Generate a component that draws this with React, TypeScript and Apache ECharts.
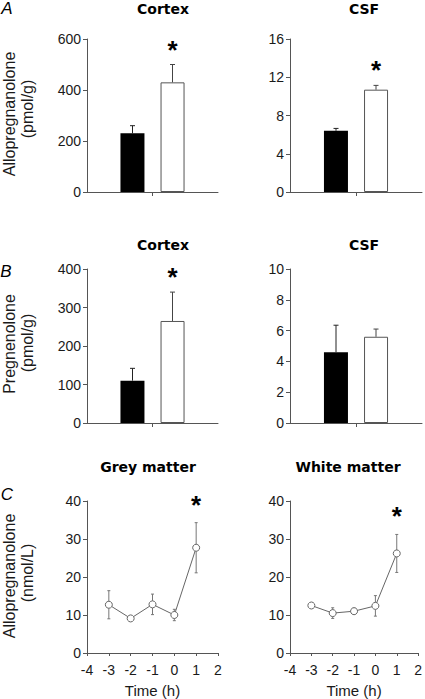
import React, { useEffect, useRef } from "react";
import * as echarts from "echarts";

// ---------- data ----------
const groupCategory = [""];
const alloCortex = [230, 430];
const alloCortexErr = [30, 70];
const alloCortexSig = [false, true];
const alloCsf = [6.4, 10.7];
const alloCsfErr = [0.25, 0.45];
const alloCsfSig = [false, true];
const pregCortex = [110, 265];
const pregCortexErr = [32, 75];
const pregCortexSig = [false, true];
const pregCsf = [4.6, 5.6];
const pregCsfErr = [1.75, 0.5];
const pregCsfSig = [false, false];

const timeH = [-3, -2, -1, 0, 1];
const greyMatter = [12.7, 9.1, 12.8, 10.0, 27.7];
const greyMatterErr = [3.7, 0.4, 2.7, 1.5, 6.6];
const greySig = [false, false, false, false, true];
const whiteMatter = [12.5, 10.5, 11.0, 12.4, 26.2];
const whiteMatterErr = [0.6, 1.4, 0.8, 2.7, 5.0];
const whiteSig = [false, false, false, false, true];

const titlesRow = [["Cortex", "CSF"], ["Cortex", "CSF"], ["Grey matter", "White matter"]];
const yNames = [
  ["Allopregnanolone", "(pmol/g)"],
  ["Pregnenolone", "(pmol/g)"],
  ["Allopregnanolone", "(nmol/L)"],
];
const panelLetters = ["A", "B", "C"];
const xAxisName = "Time (h)";

// ---------- layout ----------
const AXIS_COLOR = "#555";
const TEXT_COLOR = "#1a1a1a";
const TICK_FONT = "Liberation Sans";
const colLeft = [87, 290];
const colWidth = [131, 132];
const rowTop = [39, 269, 501];
const rowHeight = [153, 154, 154];
const titleX = [[163, 364], [163, 364], [148, 348]];
const titleY = [9, 245, 467];
const nameY = [[114, 109], [344, 343], [576, 573]];
const letterPos = [[7, 8], [6, 271], [7, 494]];
const BAR_W = 24;
const BAR_OFFSET = 20;
const STAR_GAP = 15;

export default function App() {
  const ref = useRef<HTMLDivElement>(null);
  useEffect(() => {
    document.body.style.margin = "0";
    const chart = echarts.init(ref.current!, null, { renderer: "svg" });

    const grid: any[] = [];
    const xAxis: any[] = [];
    const yAxis: any[] = [];
    const series: any[] = [];

    const yCfg = [
      [{ max: 600, interval: 200 }, { max: 16, interval: 4 }],
      [{ max: 400, interval: 100 }, { max: 10, interval: 2 }],
      [{ max: 40, interval: 10 }, { max: 40, interval: 10 }],
    ];
    const barData = [
      [[alloCortex, alloCortexErr, alloCortexSig], [alloCsf, alloCsfErr, alloCsfSig]],
      [[pregCortex, pregCortexErr, pregCortexSig], [pregCsf, pregCsfErr, pregCsfSig]],
    ];
    const lineData = [[greyMatter, greyMatterErr, greySig], [whiteMatter, whiteMatterErr, whiteSig]];

    const axisLine = { show: true, onZero: false, lineStyle: { color: AXIS_COLOR, width: 1 } };
    const axisLabel = { color: TEXT_COLOR, fontFamily: TICK_FONT, fontSize: 14 };

    const star = (x: number, y: number) => ({
      type: "text",
      style: {
        x,
        y,
        text: "*",
        fill: "#000",
        font: "bold 26px 'Liberation Sans'",
        textAlign: "center",
        textVerticalAlign: "middle",
      },
    });

    let idx = 0;
    for (let r = 0; r < 3; r++) {
      for (let c = 0; c < 2; c++) {
        grid.push({ left: colLeft[c], top: rowTop[r], width: colWidth[c], height: rowHeight[r] });
        yAxis.push({
          gridIndex: idx,
          type: "value",
          min: 0,
          max: yCfg[r][c].max,
          interval: yCfg[r][c].interval,
          axisLine,
          axisTick: { show: true, length: 4, lineStyle: { color: AXIS_COLOR } },
          axisLabel: { ...axisLabel, margin: 6 },
          splitLine: { show: false },
        });
        if (r < 2) {
          xAxis.push({
            gridIndex: idx,
            type: "category",
            data: groupCategory,
            z: 10,
            axisLine,
            axisTick: { show: true, alignWithLabel: true, length: 4, lineStyle: { color: AXIS_COLOR } },
            axisLabel: { show: false },
          });
          const [vals, errs, sig] = barData[r][c] as [number[], number[], boolean[]];
          series.push({
            type: "bar",
            xAxisIndex: idx,
            yAxisIndex: idx,
            data: [vals[0]],
            barWidth: BAR_W,
            barGap: "67%",
            itemStyle: { color: "#000" },
          });
          series.push({
            type: "bar",
            xAxisIndex: idx,
            yAxisIndex: idx,
            data: [vals[1]],
            barWidth: BAR_W,
            barGap: "67%",
            itemStyle: { color: "#fff", borderColor: "#555", borderWidth: 1 },
          });
          series.push({
            type: "custom",
            xAxisIndex: idx,
            yAxisIndex: idx,
            clip: false,
            z: 5,
            data: vals.map((v, i) => [0, v, errs[i]]),
            renderItem: (params: any, api: any) => {
              const i = params.dataIndex;
              const v = api.value(1);
              const e = api.value(2);
              const base = api.coord([0, v]);
              const top = api.coord([0, v + e]);
              const cx = base[0] + (i === 0 ? -BAR_OFFSET : BAR_OFFSET);
              const st = { stroke: i === 0 ? "#222" : "#444", lineWidth: 1 };
              const children: any[] = [
                { type: "line", shape: { x1: cx, y1: base[1], x2: cx, y2: top[1] }, style: st },
                { type: "line", shape: { x1: cx - 2.5, y1: top[1], x2: cx + 2.5, y2: top[1] }, style: st },
              ];
              if (sig[i]) children.push(star(cx, top[1] - STAR_GAP));
              return { type: "group", children };
            },
          });
        } else {
          xAxis.push({
            gridIndex: idx,
            type: "value",
            min: -4,
            max: 2,
            interval: 1,
            axisLine,
            axisTick: { show: true, length: 3, lineStyle: { color: AXIS_COLOR } },
            axisLabel: { ...axisLabel, margin: 10 },
            splitLine: { show: false },
            name: xAxisName,
            nameLocation: "middle",
            nameGap: 30,
            nameTextStyle: { color: TEXT_COLOR, fontFamily: TICK_FONT, fontSize: 15 },
          });
          const [vals, errs, sig] = lineData[c] as [number[], number[], boolean[]];
          series.push({
            type: "custom",
            xAxisIndex: idx,
            yAxisIndex: idx,
            clip: false,
            z: 1,
            data: timeH.map((t, i) => [t, vals[i], errs[i]]),
            renderItem: (params: any, api: any) => {
              const i = params.dataIndex;
              const t = api.value(0);
              const v = api.value(1);
              const e = api.value(2);
              const top = api.coord([t, v + e]);
              const bot = api.coord([t, v - e]);
              const cx = top[0];
              const st = { stroke: "#777", lineWidth: 1 };
              const children: any[] = [
                { type: "line", shape: { x1: cx, y1: bot[1], x2: cx, y2: top[1] }, style: st },
                { type: "line", shape: { x1: cx - 1.5, y1: top[1], x2: cx + 1.5, y2: top[1] }, style: st },
                { type: "line", shape: { x1: cx - 1.5, y1: bot[1], x2: cx + 1.5, y2: bot[1] }, style: st },
              ];
              if (sig[i]) children.push(star(cx, top[1] - STAR_GAP - 3));
              return { type: "group", children };
            },
          });
          series.push({
            type: "line",
            xAxisIndex: idx,
            yAxisIndex: idx,
            z: 3,
            data: timeH.map((t, i) => [t, vals[i]]),
            symbol: "circle",
            symbolSize: 7,
            itemStyle: { color: "#fff", borderColor: "#666", borderWidth: 1 },
            lineStyle: { color: "#666", width: 1 },
          });
        }
        idx++;
      }
    }

    const graphic: any[] = [];
    for (let r = 0; r < 3; r++) {
      for (let c = 0; c < 2; c++) {
        graphic.push({
          type: "text",
          x: titleX[r][c],
          y: titleY[r],
          style: {
            text: titlesRow[r][c],
            fill: "#000",
            font: "bold 14px 'DejaVu Sans'",
            textAlign: "center",
            textVerticalAlign: "middle",
          },
        });
      }
      graphic.push({
        type: "text",
        x: 9,
        y: nameY[r][0],
        rotation: Math.PI / 2,
        style: {
          text: yNames[r][0],
          fill: TEXT_COLOR,
          font: "16px 'Liberation Sans'",
          textAlign: "center",
          textVerticalAlign: "middle",
        },
      });
      graphic.push({
        type: "text",
        x: 27,
        y: nameY[r][1],
        rotation: Math.PI / 2,
        style: {
          text: yNames[r][1],
          fill: TEXT_COLOR,
          font: "16px 'Liberation Sans'",
          textAlign: "center",
          textVerticalAlign: "middle",
        },
      });
      graphic.push({
        type: "text",
        x: letterPos[r][0],
        y: letterPos[r][1],
        style: {
          text: panelLetters[r],
          fill: "#000",
          font: "italic 17px 'Liberation Sans'",
          textAlign: "center",
          textVerticalAlign: "middle",
        },
      });
    }

    chart.setOption({
      animation: false,
      backgroundColor: "#fff",
      grid,
      xAxis,
      yAxis,
      series,
      graphic,
    });
    return () => chart.dispose();
  }, []);

  return <div ref={ref} style={{ width: 425, height: 699 }} />;
}
